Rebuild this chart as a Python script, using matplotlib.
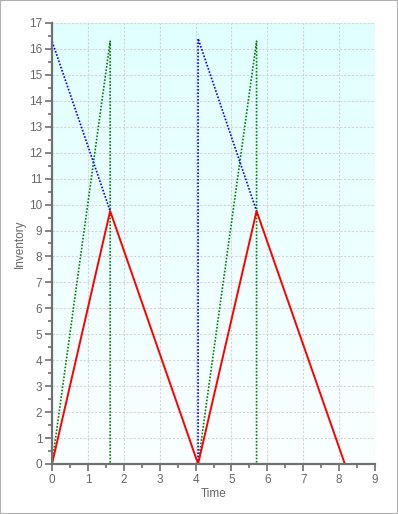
import matplotlib
matplotlib.use("Agg")
import matplotlib.pyplot as plt
import numpy as np
from matplotlib.patches import Rectangle
from matplotlib.ticker import MultipleLocator

plt.rcParams["font.family"] = ["Liberation Sans", "DejaVu Sans"]

# inventory level (net stock) over two production cycles
red_time = [0, 1.62, 4.07, 5.70, 8.16]
red_level = [0, 9.75, 0, 9.75, 0]

# cumulative production during the run (green, dotted)
green_time_1 = [0, 1.62, 1.62]
green_level_1 = [0, 16.3, 0]
green_time_2 = [4.07, 5.70, 5.70]
green_level_2 = [0, 16.3, 0]

# demand line back down from the batch size (blue, dotted)
blue_time_1 = [0, 0, 1.62]
blue_level_1 = [0, 16.3, 9.75]
blue_time_2 = [4.07, 4.07, 5.70]
blue_level_2 = [0, 16.4, 9.75]

GREY_TXT = "#666666"
SPINE = "#707070"

fig = plt.figure(figsize=(3.98, 5.14), dpi=100)
fig.patches.append(Rectangle((0, 0), 1, 1, transform=fig.transFigure,
                             fill=False, edgecolor="#b0b0b0", linewidth=1.5))
ax = fig.add_axes([0.1307, 0.0973, 0.8115, 0.858])

# light cyan to white gradient behind the plot
grad = np.linspace(1, 0, 256).reshape(-1, 1)
top = np.array([0.88, 1.0, 1.0])
bot = np.array([0.98, 1.0, 1.0])
img = bot + (top - bot) * grad[..., None]
ax.imshow(img, extent=[0, 9, 0, 17], aspect="auto", zorder=0, origin="upper")

ax.plot(green_time_1, green_level_1, color="#008000", ls=(0, (1, 1)), lw=1.2, zorder=3)
ax.plot(green_time_2, green_level_2, color="#008000", ls=(0, (1, 1)), lw=1.2, zorder=3)
ax.plot(blue_time_1, blue_level_1, color="#0000ff", ls=(0, (1, 1)), lw=1.2, zorder=3)
ax.plot(blue_time_2, blue_level_2, color="#0000ff", ls=(0, (1, 1)), lw=1.2, zorder=3)
ax.plot(red_time, red_level, color="#ff0000", lw=1.4, zorder=4)

ax.set_xlim(0, 9)
ax.set_ylim(0, 17)
ax.xaxis.set_major_locator(MultipleLocator(1))
ax.xaxis.set_minor_locator(MultipleLocator(0.5))
ax.yaxis.set_major_locator(MultipleLocator(1))
ax.yaxis.set_minor_locator(MultipleLocator(0.5))
ax.grid(True, which="major", color="#d4d4d4", ls=(0, (2, 1.5)), lw=0.8, zorder=1)
ax.set_axisbelow(True)

for side in ("top", "right"):
    ax.spines[side].set_visible(False)
for side in ("left", "bottom"):
    ax.spines[side].set_color(SPINE)
    ax.spines[side].set_linewidth(1.6)
    ax.spines[side].set_zorder(5)

ax.tick_params(which="major", length=5, width=1.2, color=SPINE,
               labelsize=8.5, labelcolor=GREY_TXT, pad=2)
ax.tick_params(which="minor", length=3, width=1.2, color=SPINE)

ax.set_xlabel("Time", fontsize=8.5, color=GREY_TXT, labelpad=2)
ax.set_ylabel("Inventory", fontsize=8.5, color=GREY_TXT, labelpad=2)

fig.savefig("out.png", dpi=100)
